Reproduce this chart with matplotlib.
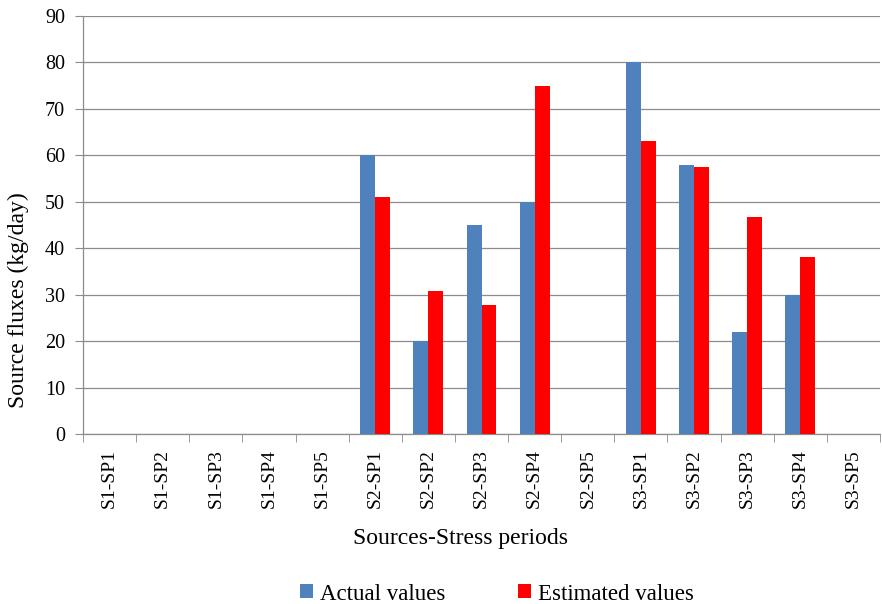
import matplotlib
matplotlib.use("Agg")
import matplotlib.pyplot as plt
import numpy as np

categories = ["S1-SP1", "S1-SP2", "S1-SP3", "S1-SP4", "S1-SP5",
              "S2-SP1", "S2-SP2", "S2-SP3", "S2-SP4", "S2-SP5",
              "S3-SP1", "S3-SP2", "S3-SP3", "S3-SP4", "S3-SP5"]
actual_values = [0, 0, 0, 0, 0, 60, 20, 45, 50, 0, 80, 58, 22, 30, 0]
estimated_values = [0, 0, 0, 0, 0, 51, 30.7, 27.7, 75, 0, 63, 57.4, 46.8, 38.2, 0]
y_ticks = [0, 10, 20, 30, 40, 50, 60, 70, 80, 90]

plt.rcParams['font.family'] = ['Liberation Serif', 'DejaVu Serif']

fig = plt.figure(figsize=(8.82, 6.04), dpi=100)
ax = fig.add_axes([83/882, 1-434/604, (880-83)/882, (434-16)/604])

x = np.arange(len(categories))
w = 0.28
ax.bar(x - w/2, actual_values, width=w, color="#4F81BD", label="Actual values", zorder=3)
ax.bar(x + w/2, estimated_values, width=w, color="#FF0000", label="Estimated values", zorder=3)

ax.set_xlim(-0.5, len(categories) - 0.5)
ax.set_ylim(0, 90)
ax.set_yticks(y_ticks)
ax.yaxis.grid(True, color="#8C8C8C", linewidth=0.9, zorder=0)
ax.set_axisbelow(True)

ax.set_xticks(x)
ax.set_xticklabels(categories, rotation=90, fontsize=14)
ax.set_xticks(np.arange(-0.5, len(categories), 1.0), minor=True)
ax.tick_params(axis='x', which='major', length=0, pad=11)
ax.tick_params(axis='x', which='minor', length=6, color="#8C8C8C", direction='out')
ax.tick_params(axis='y', length=6, color="#8C8C8C", direction='out', labelsize=14.5, pad=7)

for s in ["top", "right"]:
    ax.spines[s].set_visible(False)
for s in ["left", "bottom"]:
    ax.spines[s].set_color("#8C8C8C")
    ax.spines[s].set_linewidth(0.9)

ax.set_ylabel("Source fluxes (kg/day)", fontsize=17)
ax.yaxis.set_label_coords(-(83 - 29) / 797, (434 - 300) / 418)
ax.set_xlabel("Sources-Stress periods", fontsize=17)
ax.xaxis.set_label_coords((460 - 83) / 797, -(528 - 434) / 418)

fig.legend(loc="center", bbox_to_anchor=(497/882, 1 - 594/604), ncol=2, frameon=False,
           fontsize=16.5, handlelength=0.55, handleheight=0.55, handletextpad=0.3,
           columnspacing=3.2)

fig.savefig("out.png", dpi=100)
